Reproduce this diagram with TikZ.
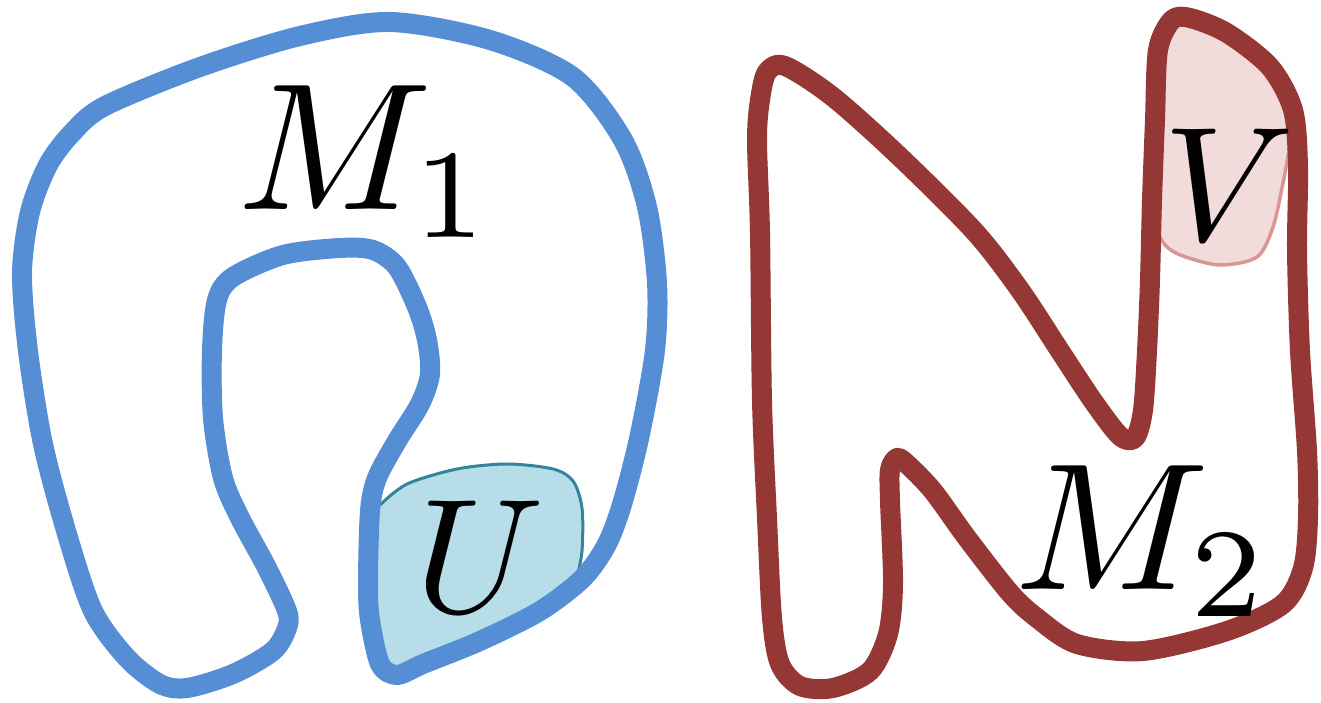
\documentclass[tikz,border=0pt]{standalone}
\definecolor{mblue}{HTML}{558ED5}
\definecolor{mred}{HTML}{953735}
\definecolor{ufill}{HTML}{B7DEE8}
\definecolor{uline}{HTML}{31859C}
\definecolor{vfill}{HTML}{F2DCDB}
\definecolor{vline}{HTML}{D99694}
\tikzset{
  manifold/.style={line width=20pt, line join=round},
  bigletter/.style={anchor=base west, inner sep=0pt, scale=18.1},
  midletter/.style={anchor=base west, inner sep=0pt, scale=16.3},
}
\begin{document}
\begin{tikzpicture}[x=1pt,y=-1pt]
\useasboundingbox (0,0) rectangle (1321,703);
% U region
\fill[ufill] plot[smooth cycle] coordinates {(383,501) (407,484) (457,469) (507,464) (553,469) (573,481) (582,508) (582,551) (577,578) (540,611) (480,641) (423,664) (395,676) (378,660) (370,620) (368,584) (370,530)};
\draw[uline, line width=3pt] plot[smooth] coordinates {(380,505) (407,484) (457,469) (507,464) (553,469) (573,481) (582,508) (582,551) (576,582)};
% V region
\fill[vfill] plot[smooth cycle] coordinates {(1152,225) (1165,245) (1183,256) (1220,265) (1257,257) (1273,227) (1283,183) (1293,140) (1293,110) (1270,67) (1227,33) (1190,18) (1172,20) (1158,50) (1155,120)};
\draw[vline, line width=3.5pt] plot[smooth] coordinates {(1152,222) (1165,245) (1183,256) (1220,265) (1257,257) (1273,227) (1283,183) (1291,140)};
% M1
\draw[mblue, manifold] plot[smooth cycle] coordinates {(390,22) (490,40) (573,77) (623,140) (647,207) (657,283) (655,350) (640,434) (623,501) (607,544) (583,578) (540,611) (480,641) (423,664) (397,675) (380,664) (370,620) (368,584) (370,511) (377,478) (397,441) (420,404) (430,374) (427,340) (417,307) (397,267) (373,250) (340,248) (283,255) (233,277) (217,300) (212,350) (213,418) (223,478) (240,518) (267,568) (287,611) (287,628) (273,651) (233,674) (187,688) (160,684) (127,658) (93,611) (67,534) (43,444) (28,351) (22,273) (30,212) (48,165) (72,133) (105,106) (200,67) (300,36)};
% M2
\draw[mred, manifold] plot[smooth cycle] coordinates {(767,72) (785,66) (833,97) (900,157) (975,232) (1020,290) (1060,351) (1093,401) (1120,436) (1135,438) (1143,410) (1147,351) (1150,280) (1152,200) (1155,120) (1158,50) (1172,20) (1190,18) (1227,33) (1270,67) (1293,110) (1298,167) (1297,250) (1300,351) (1307,451) (1308,518) (1303,568) (1283,604) (1227,631) (1143,651) (1077,644) (1037,618) (1010,593) (967,538) (933,491) (907,464) (897,458) (890,470) (890,501) (893,584) (888,634) (870,671) (833,688) (800,686) (780,664) (772,618) (767,518) (762,401) (760,233) (757,140) (760,100)};
% labels
\node[bigletter] (m1) at (234,210) {$M_1$};
\node[bigletter] (m2) at (1011,589) {$M_2$};
\node[midletter] (u) at (412,612) {$U$};
\node[midletter] (v) at (1160,240) {$V$};
\end{tikzpicture}
\end{document}
